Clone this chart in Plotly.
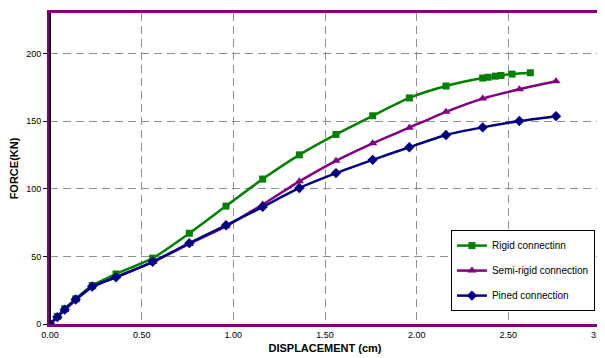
import plotly.graph_objects as go

disp_rigid = [0, 0.04, 0.08, 0.14, 0.23, 0.36, 0.56, 0.76, 0.96, 1.16, 1.36, 1.56, 1.76, 1.96, 2.16, 2.36, 2.39, 2.43, 2.46, 2.52, 2.62]
force_rigid = [0, 5.6, 11.3, 18.6, 28.4, 37.0, 48.7, 67.1, 87.2, 107.2, 125.1, 140.2, 154.0, 167.2, 176.0, 181.9, 182.5, 183.3, 183.8, 184.8, 185.8]

disp_semi = [0, 0.04, 0.08, 0.14, 0.23, 0.36, 0.56, 0.76, 0.96, 1.16, 1.36, 1.56, 1.76, 1.96, 2.16, 2.36, 2.56, 2.76]
force_semi = [0, 5.0, 10.3, 17.8, 27.2, 34.8, 45.8, 59.2, 72.3, 88.4, 105.5, 120.7, 133.6, 145.2, 156.9, 166.7, 173.6, 179.5]

disp_pin = [0, 0.04, 0.08, 0.14, 0.23, 0.36, 0.56, 0.76, 0.96, 1.16, 1.36, 1.56, 1.76, 1.96, 2.16, 2.36, 2.56, 2.76]
force_pin = [0, 5.1, 10.6, 18.1, 27.7, 34.5, 46.0, 59.8, 73.0, 86.6, 100.6, 111.6, 121.4, 130.7, 139.8, 145.4, 150.1, 153.7]

x_ticks = [0, 0.5, 1.0, 1.5, 2.0, 2.5]
x_tick_labels = ["0.00", "0.50", "1.00", "1.50", "2.00", "2.50"]
x_last_tick = 3.0
x_last_label = "3.00"
y_ticks = [0, 50, 100, 150, 200]

fig = go.Figure()
fig.add_trace(go.Scatter(x=disp_rigid, y=force_rigid, name="Rigid connectinn", mode="lines+markers",
                         legendgroup="a",
                         line=dict(color="#008000", width=2.5, shape="spline", smoothing=0.6),
                         marker=dict(symbol="square", size=7, color="#008000")))
fig.add_trace(go.Scatter(x=disp_semi, y=force_semi, name="Semi-rigid connection", mode="lines+markers",
                         legendgroup="b",
                         line=dict(color="#800080", width=2.5, shape="spline", smoothing=0.6),
                         marker=dict(symbol="triangle-up", size=8, color="#800080")))
fig.add_trace(go.Scatter(x=disp_pin, y=force_pin, name="Pined connection", mode="lines+markers",
                         legendgroup="c",
                         line=dict(color="#000080", width=2.5, shape="spline", smoothing=0.6),
                         marker=dict(symbol="diamond", size=8, color="#000080")))

fig.update_layout(
    width=597, height=350,
    margin=dict(l=42, r=2, t=2, b=34),
    paper_bgcolor="white", plot_bgcolor="white",
    font=dict(family="Liberation Sans, Arial, sans-serif", size=9, color="black"),
    xaxis=dict(range=[0, 3.0], tickvals=x_ticks + [x_last_tick], ticktext=x_tick_labels + [""],
               showgrid=True, gridcolor="#909090", griddash="8px,5px", gridwidth=1,
               showline=True, linecolor="#800080", linewidth=3, mirror=True,
               zeroline=False, ticks="", ticklen=0,
               title=dict(text="<b>DISPLACEMENT (cm)</b>", font=dict(size=11), standoff=6)),
    yaxis=dict(range=[0, 230], tickvals=y_ticks,
               showgrid=True, gridcolor="#909090", griddash="8px,5px", gridwidth=1,
               showline=True, linecolor="#800080", linewidth=3, mirror=True,
               zeroline=False, ticks="outside", ticklen=4, tickcolor="black",
               title=dict(text="<b>FORCE(KN)</b>", font=dict(size=11), standoff=6)),
    legend=dict(x=0.729, y=0.302, xanchor="left", yanchor="top",
                bgcolor="white", bordercolor="black", borderwidth=1,
                font=dict(size=10), tracegroupgap=6, itemwidth=30),
    showlegend=True,
)
fig.add_annotation(x=x_last_tick, xref="x", y=0, yref="paper", yanchor="top", yshift=-4,
                   text=x_last_label, showarrow=False, font=dict(size=9))
fig.add_shape(type="line", xref="paper", yref="paper", x0=0, x1=0, y0=0, y1=1,
              line=dict(color="#200020", width=2))

fig.write_html("out.html")
